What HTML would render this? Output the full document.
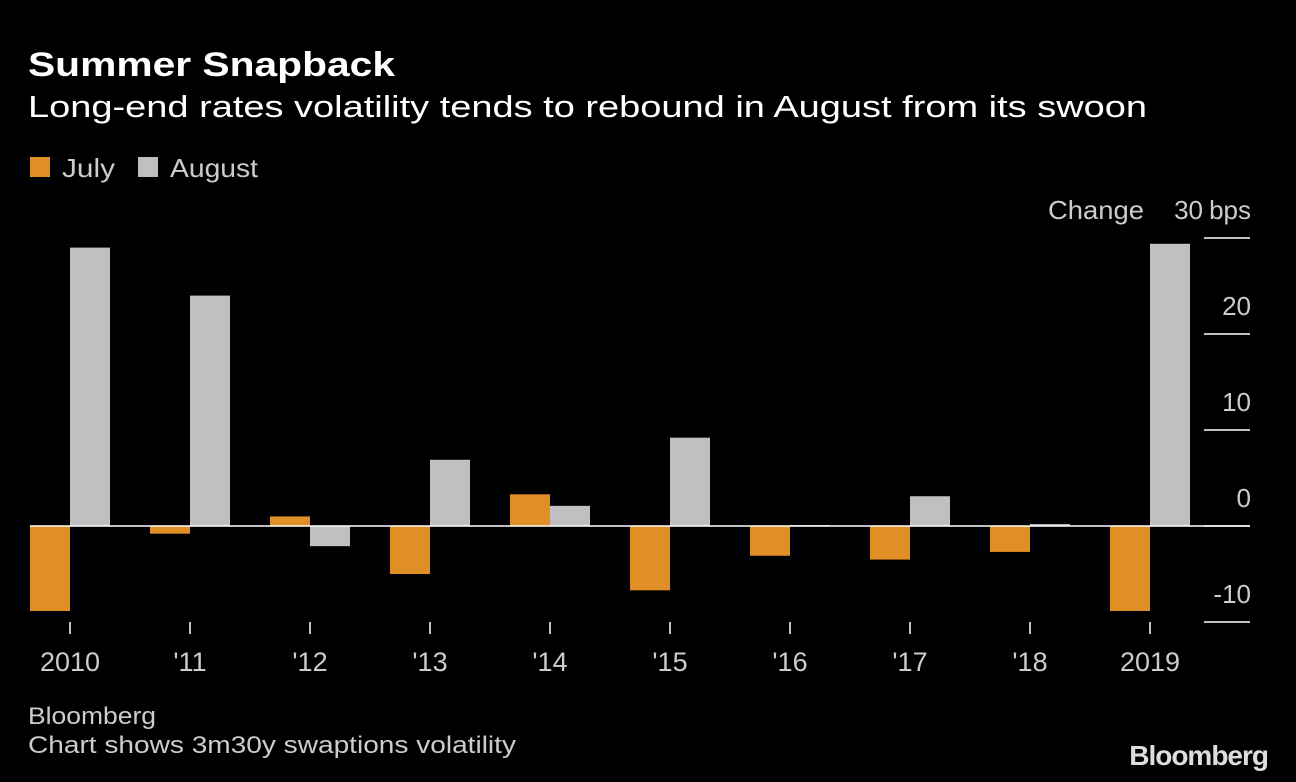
<!DOCTYPE html>
<html><head><meta charset="utf-8"><style>
body{margin:0;background:#000;width:1296px;height:782px;overflow:hidden;font-family:"Liberation Sans",sans-serif;color:#fff}
</style></head><body>
<svg width="1296" height="782" style="position:absolute;left:0;top:0">
<text x="28" y="76" font-size="34" font-weight="bold" fill="#fff" textLength="367" lengthAdjust="spacingAndGlyphs">Summer Snapback</text>
<text x="28" y="117" font-size="31" fill="#fff" textLength="1119" lengthAdjust="spacingAndGlyphs">Long-end rates volatility tends to rebound in August from its swoon</text>
<rect x="30" y="157" width="20" height="20" fill="#e08e26"/>
<text x="62" y="177" font-size="26" fill="#ccc" textLength="53" lengthAdjust="spacingAndGlyphs">July</text>
<rect x="138" y="157" width="20" height="20" fill="#c0c0c0"/>
<text x="170" y="177" font-size="26" fill="#ccc" textLength="88" lengthAdjust="spacingAndGlyphs">August</text>
<text x="1144" y="219" font-size="26" fill="#ccc" text-anchor="end" textLength="96" lengthAdjust="spacingAndGlyphs">Change</text>
<g id="plot"></g>
<text x="28" y="724" font-size="24" fill="#ccc" textLength="128" lengthAdjust="spacingAndGlyphs">Bloomberg</text>
<text x="28" y="753" font-size="24" fill="#ccc" textLength="488" lengthAdjust="spacingAndGlyphs">Chart shows 3m30y swaptions volatility</text>
<text x="1268" y="765" font-size="28" font-weight="bold" fill="#ddd" text-anchor="end" letter-spacing="-1">Bloomberg</text>
</svg>
<script>
const categories=["2010","'11","'12","'13","'14","'15","'16","'17","'18","2019"];
const julyValues=[-8.85,-0.8,1.0,-5.0,3.3,-6.7,-3.1,-3.5,-2.7,-8.85];
const augustValues=[29.0,24.0,-2.1,6.9,2.1,9.2,0.1,3.1,0.2,29.4];
const yTicks=[30,20,10,0,-10];
const NS="http://www.w3.org/2000/svg";
const g=document.getElementById('plot');
function y(v){return 526-v*9.6;}
function x(i){return 70+i*120;}
function mk(t,a){const e=document.createElementNS(NS,t);for(const k in a)e.setAttribute(k,a[k]);g.appendChild(e);return e;}
yTicks.forEach(v=>{
  const l=mk('line',{x1:1204,x2:1250,y1:y(v),y2:y(v),stroke:'#fff','stroke-width':1.5});
  
  
  const t=mk('text',{x:v===30?1203:1251,y:y(v)-19,'font-size':26,fill:'#ccc','text-anchor':'end'});
  t.textContent=String(v);
  
  
});
const u=mk('text',{x:1251,y:219,'font-size':26,fill:'#ccc','text-anchor':'end'});u.textContent='bps';


categories.forEach((c,i)=>{
  const jv=julyValues[i],av=augustValues[i];
  const r1=mk('rect',{x:x(i)-40,width:40,y:Math.min(y(0),y(jv)),height:Math.abs(y(jv)-y(0)),fill:'#e08e26'});
  
  
  const r2=mk('rect',{x:x(i),width:40,y:Math.min(y(0),y(av)),height:Math.max(1,Math.abs(y(av)-y(0))),fill:'#c0c0c0'});
  
  
  const tk=mk('line',{x1:x(i),x2:x(i),y1:622,y2:634,stroke:'#fff','stroke-width':1.5});
  
  
  const tl=mk('text',{x:x(i),y:671,'font-size':27,fill:'#ccc','text-anchor':'middle'});tl.textContent=c;
  
  
});
const z=mk('line',{x1:30,x2:1250,y1:y(0),y2:y(0),stroke:'#fff','stroke-width':1.5});


</script>
</body></html>
